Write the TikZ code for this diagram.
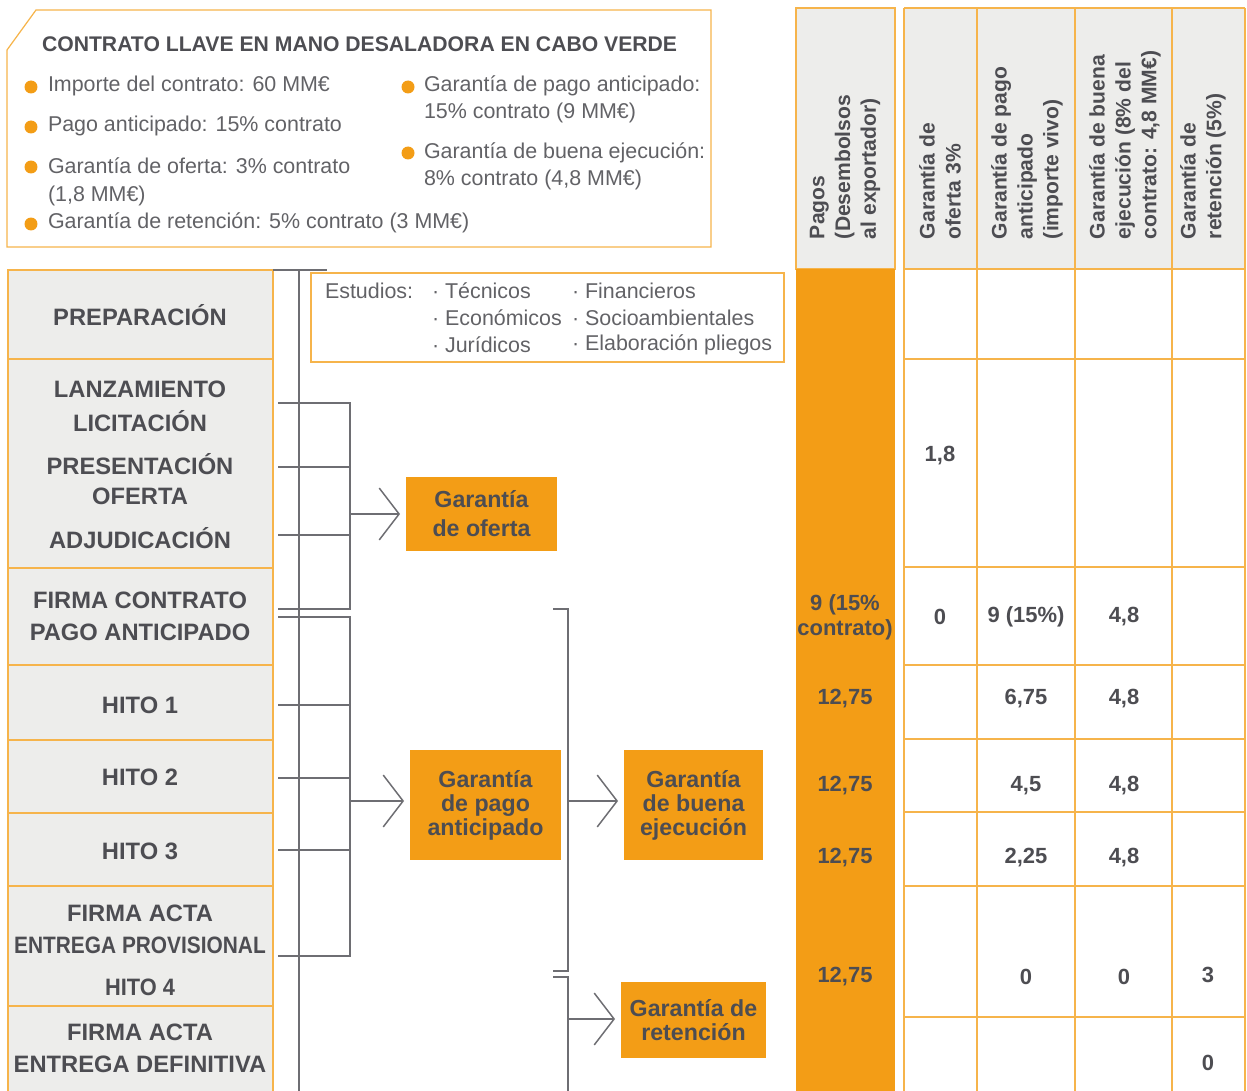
\documentclass[tikz,border=0pt]{standalone}
\usepackage{fontspec}
\setmainfont{Liberation Sans}
\usetikzlibrary{arrows.meta}
\definecolor{orng}{RGB}{243,157,22}
\definecolor{orline}{RGB}{246,180,75}
\definecolor{cellgray}{RGB}{237,237,235}
\definecolor{darktxt}{RGB}{77,77,82}
\definecolor{bodycol}{RGB}{98,98,102}
\definecolor{conncol}{RGB}{110,110,115}
\begin{document}
\begin{tikzpicture}[x=0.02cm,y=-0.02cm,
 every node/.style={inner sep=0pt, outer sep=0pt},
 ttl/.style={font=\fontsize{12.05}{14}\selectfont\bfseries, text=darktxt, anchor=west},
 bodytxt/.style={font=\fontsize{12.2}{14}\selectfont, text=bodycol, anchor=west},
 bullet/.style={circle, fill=orng, minimum size=0.26cm},
 phasetxt/.style={font=\fontsize{13.5}{16}\selectfont\bfseries, text=darktxt},
 phasebox/.style={fill=cellgray, draw=orline, line width=0.7pt},
 gbox/.style={fill=orng, font=\fontsize{13.2}{13.6}\selectfont\bfseries, text=darktxt, align=center},
 link/.style={draw=conncol, line width=0.85pt},
 chev/.style={-{Straight Barb[length=11.3pt,width=29.5pt,line width=0.85pt]}, shorten >=3.4pt},
 colhead/.style={rotate=90, anchor=west, align=left, font=\fontsize{12}{14.7}\selectfont\bfseries, text=darktxt},
 numtxt/.style={font=\fontsize{12.5}{14.2}\selectfont\bfseries, text=darktxt, align=center},
 gridline/.style={draw=orline, line width=0.7pt}
]
\useasboundingbox (0,0) rectangle (1247,1091);

% ---------- top info box
\draw[draw=orline, line width=0.7pt] (7,50) -- (36,10) -- (711,10) -- (711,247) -- (7,247) -- cycle;
\node[ttl] (title) at (42,44) {CONTRATO LLAVE EN MANO DESALADORA EN CABO VERDE};
\node[bullet] (bu1) at (31,87) {};
\node[bodytxt] (t1) at (48,86) {Importe del contrato: 60 MM€};
\node[bullet] (bu2) at (31,127) {};
\node[bodytxt] (t2) at (48,126) {Pago anticipado: 15\% contrato};
\node[bullet] (bu3) at (31,167) {};
\node[bodytxt] (t3) at (48,166) {Garantía de oferta: 3\% contrato};
\node[bodytxt] (t3b) at (48,196) {(1,8 MM€)};
\node[bullet] (bu4) at (31,224) {};
\node[bodytxt] (t4) at (48,223) {Garantía de retención: 5\% contrato (3 MM€)};
\node[bullet] (bu5) at (408,87) {};
\node[bodytxt] (t5) at (424,86) {Garantía de pago anticipado:};
\node[bodytxt] (t5b) at (424,113) {15\% contrato (9 MM€)};
\node[bullet] (bu6) at (408,153) {};
\node[bodytxt] (t6) at (424,153) {Garantía de buena ejecución:};
\node[bodytxt] (t6b) at (424,180) {8\% contrato (4,8 MM€)};

% ---------- left phase column
\path[phasebox] (8,270) rectangle (273,359);
\path[phasebox] (8,359) rectangle (273,568);
\path[phasebox] (8,568) rectangle (273,665);
\path[phasebox] (8,665) rectangle (273,740);
\path[phasebox] (8,740) rectangle (273,813);
\path[phasebox] (8,813) rectangle (273,886);
\path[phasebox] (8,886) rectangle (273,1006);
\path[phasebox] (8,1006) rectangle (273,1100);

\node[phasetxt] (p1) at (140,315) {PREPARACIÓN};
\node[phasetxt] (p2) at (140,389) {LANZAMIENTO};
\node[phasetxt] (p2b) at (140,421) {LICITACIÓN};
\node[phasetxt] (p3) at (140,464) {PRESENTACIÓN};
\node[phasetxt] (p3b) at (140,496) {OFERTA};
\node[phasetxt] (p4) at (140,538) {ADJUDICACIÓN};
\node[phasetxt] (p5) at (140,600) {FIRMA CONTRATO};
\node[phasetxt] (p5b) at (140,632) {PAGO ANTICIPADO};
\node[phasetxt] (p6) at (140,705) {HITO 1};
\node[phasetxt] (p7) at (140,777) {HITO 2};
\node[phasetxt] (p8) at (140,851) {HITO 3};
\node[phasetxt] (p9) at (140,913) {FIRMA ACTA};
\node[phasetxt] (p9b) at (140,945) {\scalebox{0.88}[1]{ENTREGA PROVISIONAL}};
\node[phasetxt] (p9c) at (140,987) {\scalebox{0.92}[1]{HITO 4}};
\node[phasetxt] (p10) at (140,1032) {FIRMA ACTA};
\node[phasetxt] (p10b) at (140,1064) {ENTREGA DEFINITIVA};

% ---------- studies box
\draw[draw=orline, line width=0.7pt] (311,273) rectangle (784,362);
\node[bodytxt] (est) at (325,291) {Estudios:};
\node[bodytxt] (e1) at (432,291) {· Técnicos};
\node[bodytxt] (e2) at (432,318) {· Económicos};
\node[bodytxt] (e3) at (432,345) {· Jurídicos};
\node[bodytxt] (e4) at (572,291) {· Financieros};
\node[bodytxt] (e5) at (572,318) {· Socioambientales};
\node[bodytxt] (e6) at (572,345) {· Elaboración pliegos};

% ---------- guarantee boxes
\node[gbox, minimum width=3.02cm, minimum height=1.48cm, font=\fontsize{13.2}{16.4}\selectfont\bfseries] (oferta) at (481.5,514) {Garantía\\de oferta};
\node[gbox, minimum width=3.02cm, minimum height=2.2cm] (pago) at (485.5,805) {Garantía\\de pago\\anticipado};
\node[gbox, minimum width=2.78cm, minimum height=2.2cm] (buena) at (693.5,805) {Garantía\\de buena\\ejecución};
\node[gbox, minimum width=2.9cm, minimum height=1.52cm] (reten) at (693.5,1020) {Garantía de\\retención};

% ---------- connectors
\coordinate (vtop) at (299,270);
\coordinate (vbot) at (299,1100);
\draw[link] (273,270) -- (327,270);
\draw[link] (vtop) -- (vbot);

% bracket to oferta
\draw[link] (278,403) -- (350,403) -- (350,609) -- (278,609);
\draw[link] (278,467) -- (350,467);
\draw[link] (278,535) -- (350,535);
\coordinate (br1) at (350,514);
\draw[link, chev] (br1) -- (br1 -| oferta.west);

% bracket to pago anticipado
\draw[link] (278,617) -- (350,617) -- (350,956) -- (278,956);
\draw[link] (278,705) -- (350,705);
\draw[link] (278,778) -- (350,778);
\draw[link] (278,850) -- (350,850);
\coordinate (br2) at (350,801);
\draw[link, chev] (br2) -- (br2 -| pago.west);

% bracket to buena ejecucion
\draw[link] (553,609) -- (568,609) -- (568,971) -- (553,971);
\coordinate (br3) at (568,801);
\draw[link, chev] (br3) -- (br3 -| buena.west);

% bracket to retencion
\draw[link] (553,977) -- (568,977) -- (568,1100);
\coordinate (br4) at (568,1019);
\draw[link, chev] (br4) -- (br4 -| reten.west);

% ---------- payments column
\path[fill=cellgray, draw=orline, line width=0.7pt] (796,8) rectangle (895,269);
\path[fill=orng] (796,269) rectangle (895,1100);

% ---------- guarantees table
\path[fill=cellgray] (904,8) rectangle (1245,269);
\foreach \xx in {904,977,1075,1172,1245} \draw[gridline] (\xx,8) -- (\xx,1100);
\foreach \yy in {8,269,359,567,665,739,812,886,1017} \draw[gridline] (904,\yy) -- (1245,\yy);

% headers
\node[colhead] (hpag) at (845,239) {Pagos\\(Desembolsos\\al exportador)};
\node[colhead] (hof) at (940,239) {Garantía de\\oferta 3\%};
\node[colhead] (hant) at (1027,239) {Garantía de pago\\anticipado\\(importe vivo)};
\node[colhead] (hbue) at (1125,239) {Garantía de buena\\ejecución (8\% del\\contrato: 4,8 MM€)};
\node[colhead] (hret) at (1203,239) {Garantía de\\retención (5\%)};

% payments values
\node[numtxt] (v1) at (845,617) {9 (15\%\\contrato)};
\node[numtxt] (v2) at (845,699) {12,75};
\node[numtxt] (v3) at (845,786) {12,75};
\node[numtxt] (v4) at (845,858) {12,75};
\node[numtxt] (v5) at (845,977) {12,75};

% oferta column
\node[numtxt] (o1) at (940,456) {1,8};
\node[numtxt] (o2) at (940,617) {0};
% pago anticipado column
\node[numtxt] (a1) at (1026,617) {9 (15\%)};
\node[numtxt] (a2) at (1026,699) {6,75};
\node[numtxt] (a3) at (1026,786) {4,5};
\node[numtxt] (a4) at (1026,858) {2,25};
\node[numtxt] (a5) at (1026,977) {0};
% buena ejecucion column
\node[numtxt] (b1) at (1124,617) {4,8};
\node[numtxt] (b2) at (1124,699) {4,8};
\node[numtxt] (b3) at (1124,786) {4,8};
\node[numtxt] (b4) at (1124,858) {4,8};
\node[numtxt] (b5) at (1124,977) {0};
% retencion column
\node[numtxt] (r1) at (1208,975) {3};
\node[numtxt] (r2) at (1208,1063) {0};
\end{tikzpicture}
\end{document}
